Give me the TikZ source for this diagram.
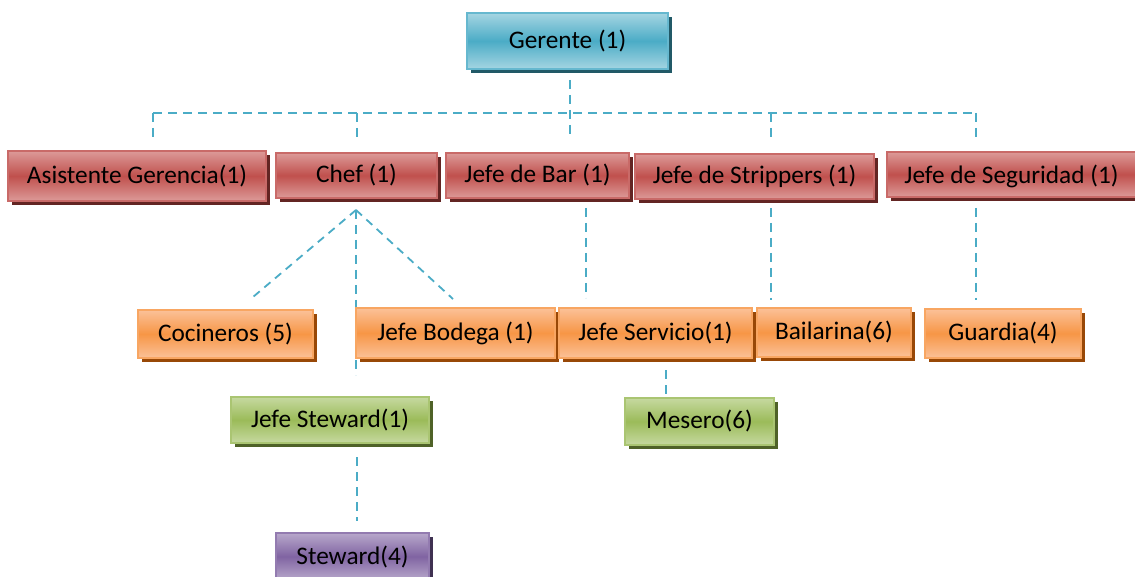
\documentclass[tikz,border=0pt]{standalone}
\usepackage{fontspec}
\setmainfont{Carlito}
\usetikzlibrary{shadows}
\definecolor{blueM}{HTML}{4BACC6}
\definecolor{blueL}{HTML}{A5D5E2}
\definecolor{blueD}{HTML}{215967}
\definecolor{redM}{HTML}{C0504D}
\definecolor{redL}{HTML}{DC9A98}
\definecolor{redD}{HTML}{632523}
\definecolor{orM}{HTML}{F79646}
\definecolor{orL}{HTML}{FBC198}
\definecolor{orD}{HTML}{984807}
\definecolor{grM}{HTML}{9BBB59}
\definecolor{grL}{HTML}{C6D9A0}
\definecolor{grD}{HTML}{4F6228}
\definecolor{puM}{HTML}{8064A2}
\definecolor{puL}{HTML}{B8A8CB}
\definecolor{puD}{HTML}{3F3151}
\definecolor{lineC}{HTML}{4BACC6}
\tikzset{
  box/.style={rectangle, inner sep=0pt, line width=1.5pt, text=black,
    font=\fontsize{25.3}{29}\selectfont},
  bluebox/.style={box, draw=blueM!85!white, top color=blueL, bottom color=blueL, middle color=blueM,
    drop shadow={shadow xshift=4pt, shadow yshift=-4pt, fill=blueD, opacity=1}},
  redbox/.style={box, draw=redM!85!white, top color=redL, bottom color=redL, middle color=redM,
    drop shadow={shadow xshift=4pt, shadow yshift=-4pt, fill=redD, opacity=1}},
  orbox/.style={box, draw=orM!85!white, top color=orL, bottom color=orL, middle color=orM,
    drop shadow={shadow xshift=4pt, shadow yshift=-4pt, fill=orD, opacity=1}},
  grbox/.style={box, draw=grM!85!white, top color=grL, bottom color=grL, middle color=grM,
    drop shadow={shadow xshift=4pt, shadow yshift=-4pt, fill=grD, opacity=1}},
  pubox/.style={box, draw=puM!85!white, top color=puL, bottom color=puL, middle color=puM,
    drop shadow={shadow xshift=4pt, shadow yshift=-4pt, fill=puD, opacity=1}},
  conn/.style={draw=lineC, line width=2pt, dash pattern=on 9pt off 6pt},
}
\begin{document}
\begin{tikzpicture}[x=1pt, y=-1pt]
\clip (0,0) rectangle (1135,577);
\fill[white] (0,0) rectangle (1135,577);

% connectors
\coordinate (gTop) at (570,80);
\coordinate (gBot) at (570,137);
\coordinate (busL) at (153,113);
\coordinate (busR) at (976,113);
\coordinate (bA) at (153,138);
\coordinate (bC0) at (357,113);
\coordinate (bC) at (357,138);
\coordinate (bS0) at (771,113);
\coordinate (bS) at (771,141);
\coordinate (bG) at (976,141);
\coordinate (apex) at (356,210);
\coordinate (cocT) at (253,297);
\coordinate (bodT) at (453,299);
\coordinate (chefV) at (356,375);
\coordinate (barB) at (586,208);
\coordinate (servT) at (586,298);
\coordinate (stripB) at (771,208);
\coordinate (bailT) at (771,300);
\coordinate (segB) at (976,208);
\coordinate (guarT) at (976,300);
\coordinate (servB) at (666,370);
\coordinate (mesT) at (666,395);
\coordinate (jsB) at (357,457);
\coordinate (stT) at (357,521);

\draw[conn] (gTop) -- (gBot);
\draw[conn] (busL) -- (busR);
\draw[conn] (busL) -- (bA);
\draw[conn] (bC0) -- (bC);
\draw[conn] (bS0) -- (bS);
\draw[conn] (busR) -- (bG);
\draw[conn, line width=1.8pt, dash pattern=on 8pt off 6pt] (apex) -- (cocT);
\draw[conn, line width=1.8pt, dash pattern=on 8pt off 6pt] (apex) -- (bodT);
\draw[conn] (apex) -- (chefV);
\draw[conn] (barB) -- (servT);
\draw[conn] (stripB) -- (bailT);
\draw[conn] (segB) -- (guarT);
\draw[conn] (servB) -- (mesT);
\draw[conn] (jsB) -- (stT);

% boxes
\node[bluebox, minimum width=201pt, minimum height=56pt] (ger) at (567.5,41) {Gerente (1)};

\node[redbox, minimum width=258pt, minimum height=50pt] (asis) at (137,176) {Asistente Gerencia(1)};
\node[redbox, minimum width=161pt, minimum height=45pt] (chef) at (356.5,175.5) {Chef (1)};
\node[redbox, minimum width=183pt, minimum height=45pt] (bar) at (537.5,175.5) {Jefe de Bar (1)};
\node[redbox, minimum width=239pt, minimum height=45pt] (strip) at (754.5,176.5) {Jefe de Strippers (1)};
\node[redbox, minimum width=249pt, minimum height=45pt, text depth=0pt] (seg) at (1011.5,174.5) {Jefe de Seguridad (1)};

\node[orbox, minimum width=175pt, minimum height=48pt] (coc) at (225.5,334) {Cocineros (5)};
\node[orbox, minimum width=199pt, minimum height=50pt] (bod) at (455.5,333) {Jefe Bodega (1)};
\node[orbox, minimum width=193pt, minimum height=50pt] (serv) at (655.5,333) {Jefe Servicio(1)};
\node[orbox, minimum width=154pt, minimum height=49pt] (bail) at (834,332.5) {Bailarina(6)};
\node[orbox, minimum width=156pt, minimum height=49pt] (guar) at (1003,333.5) {Guardia(4)};

\node[grbox, minimum width=198pt, minimum height=46pt] (jstew) at (330,420) {Jefe Steward(1)};
\node[grbox, minimum width=149pt, minimum height=47pt] (mes) at (699.5,421.5) {Mesero(6)};

\node[pubox, minimum width=153pt, minimum height=47pt] (stew) at (352.5,556.5) {Steward(4)};
\end{tikzpicture}
\end{document}
